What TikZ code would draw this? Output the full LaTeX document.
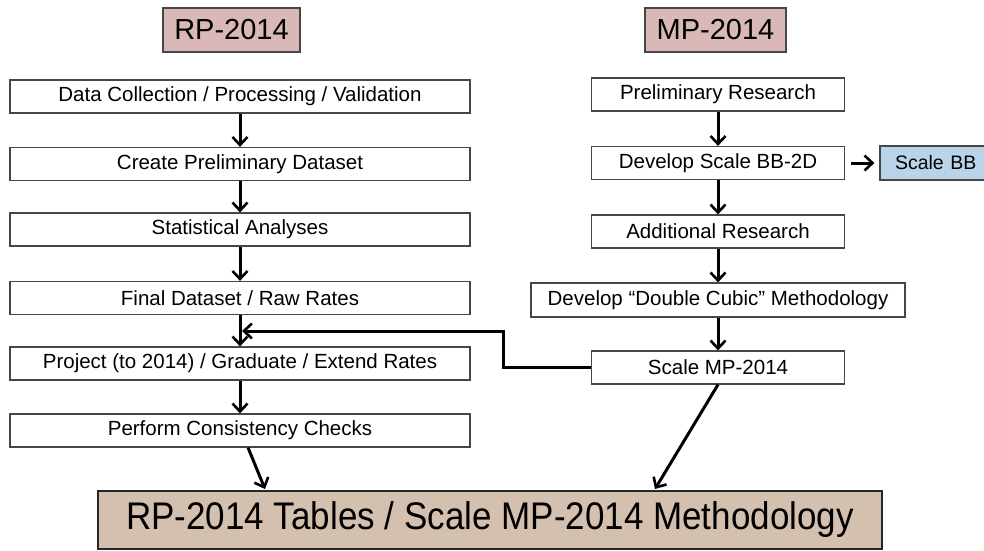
\documentclass[tikz,border=0pt]{standalone}
\usepackage{fontspec}
\setmainfont{Liberation Sans}
\usetikzlibrary{arrows.meta}
\definecolor{titlepink}{RGB}{219,184,184}
\definecolor{bbblue}{RGB}{185,211,232}
\definecolor{basetan}{RGB}{212,192,174}
\definecolor{edgegray}{RGB}{70,70,70}
\begin{document}
\begin{tikzpicture}[
            x=1pt, y=-1pt,
            every node/.style={draw=edgegray, line width=1.2pt, inner sep=0pt, text centered, font=\fontsize{20.5}{24}\selectfont},
            title/.style={fill=titlepink, minimum height=44pt, font=\fontsize{29}{34}\selectfont},
            leftbox/.style={fill=white, minimum width=460pt, minimum height=33pt},
            rightbox/.style={fill=white, minimum width=253pt, minimum height=33pt},
            flow/.style={-{Straight Barb[length=8pt,width=15pt,line width=2.6pt]}, line width=3pt, black}
        ]
        \useasboundingbox (0,0) rectangle (984,550);
        % titles
        \node[title, minimum width=137pt] (rp) at (231.5,30) {RP-2014};
        \node[title, minimum width=141pt] (mp) at (715.5,30) {MP-2014};
        % RP-2014 column
        \node[leftbox] (collect) at (240,96.5) {Data Collection / Processing / Validation};
        \node[leftbox] (prelim) at (240,164) {Create Preliminary Dataset};
        \node[leftbox] (stats) at (240,229.5) {Statistical Analyses};
        \node[leftbox] (final) at (240,298) {Final Dataset / Raw Rates};
        \node[leftbox] (project) at (240,363.5) {Project (to 2014) / Graduate / Extend Rates};
        \node[leftbox] (checks) at (240,430.5) {Perform Consistency Checks};
        % MP-2014 column
        \node[rightbox] (research) at (718,94.5) {Preliminary Research};
        \node[rightbox] (bbtwod) at (718,163) {Develop Scale BB-2D};
        \node[rightbox] (addl) at (718,231.5) {Additional Research};
        \node[fill=white, minimum width=374pt, minimum height=34pt] (cubic) at (718,300) {Develop \textquotedblleft Double Cubic\textquotedblright\ Methodology};
        \node[rightbox] (scalemp) at (718,367.5) {Scale MP-2014};
        \node[fill=bbblue, minimum width=112pt, minimum height=34pt, text width=106pt, align=left, font=\fontsize{19.5}{23}\selectfont] (scalebb) at (936,163) {\hspace*{12pt}Scale BB};
        % result
        \node[fill=basetan, draw=black!85, line width=2pt, minimum width=784pt, minimum height=58pt, font=\fontsize{35}{40}\selectfont] (result) at (490,519.5) {\scalebox{1}[1.1]{RP-2014 Tables / Scale MP-2014 Methodology}};
        % connectors
        \foreach \a/\b in {collect/prelim, prelim/stats, stats/final, final/project, project/checks, research/bbtwod, bbtwod/addl, addl/cubic, cubic/scalemp}
            \draw[flow] (\a) -- (\b);
        \draw[flow] ([xshift=6pt]bbtwod.east) -- ([xshift=-5pt]scalebb.west);
        \coordinate (merge) at (240,331);
        \draw[flow] (scalemp.west) -| (503,331) -- ([xshift=2pt]merge);
        \draw[flow] (checks.south) ++(8,0) -- (265,489);
        \draw[flow] (scalemp.south) -- (655,489);
\end{tikzpicture}
\end{document}
